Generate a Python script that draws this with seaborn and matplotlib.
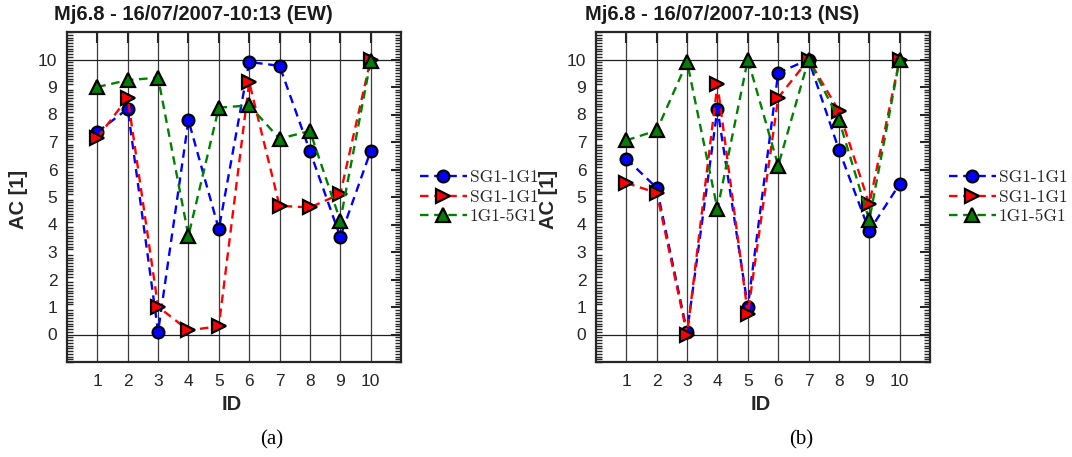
import matplotlib.pyplot as plt
import seaborn as sns
from matplotlib.font_manager import FontProperties
from matplotlib.ticker import MultipleLocator

# Data
ids = list(range(1, 11))
labels = ['SG1-1G1', 'SG1-1G1', '1G1-5G1']

ew_blue = [7.36, 8.21, 0.10, 7.79, 3.83, 9.91, 9.77, 6.67, 3.55, 6.67]
ew_red = [7.15, 8.61, 1.01, 0.15, 0.30, 9.18, 4.68, 4.62, 5.11, 10.0]
ew_green = [9.00, 9.25, 9.34, 3.59, 8.25, 8.33, 7.12, 7.40, 4.14, 9.94]

ns_blue = [6.39, 5.33, 0.09, 8.21, 1.01, 9.51, 10.0, 6.72, 3.77, 5.47]
ns_red = [5.51, 5.15, 0.00, 9.10, 0.75, 8.61, 10.0, 8.13, 4.74, 10.0]
ns_green = [7.06, 7.42, 9.91, 4.56, 10.0, 6.14, 10.0, 7.81, 4.16, 10.0]

titles = ['Mj6.8 - 16/07/2007-10:13 (EW)', 'Mj6.8 - 16/07/2007-10:13 (NS)']
captions = ['(a)', '(b)']

colors = ['#0000ff', '#ff0000', '#008000']
markers = ['o', '>', '^']
msizes = [8.5, 9.5, 9.5]

sns.set_theme(style='white')
plt.rcParams['font.family'] = ['Liberation Sans', 'DejaVu Sans']

W, H = 1072, 457
fig = plt.figure(figsize=(W / 100, H / 100), dpi=100)


def px(x, y):
    return x / W, 1 - y / H


offset = 529
panels = [(ew_blue, ew_red, ew_green), (ns_blue, ns_red, ns_green)]
legend_font = FontProperties(family='cmr10', size=12.5)

for i, series in enumerate(panels):
    dx = i * offset
    ax = fig.add_axes([(67 + dx) / W, 1 - 362 / H, 334 / W, 330 / H])

    ax.axhline(0, color='#202020', lw=0.9, zorder=1)
    ax.axhline(10, color='#202020', lw=0.9, zorder=1)
    ax.grid(axis='x', color='#3a3a3a', lw=0.9, zorder=1)
    ax.set_axisbelow(True)

    handles = []
    for vals, lab, c, m, ms in zip(series, labels, colors, markers, msizes):
        sns.lineplot(x=ids, y=vals, ax=ax, color=c, marker=m, markersize=ms,
                     markerfacecolor=c, markeredgecolor='black',
                     markeredgewidth=1.6, linewidth=1.7,
                     linestyle=(0, (3.6, 2.4)), label=lab, legend=False,
                     zorder=3)
        handles.append(ax.lines[-1])

    ax.set_xlim(0, 11)
    ax.set_ylim(-1, 11)
    ax.set_xticks(ids)
    ax.set_yticks(range(0, 11))
    ax.yaxis.set_minor_locator(MultipleLocator(0.1))
    ax.tick_params(axis='x', which='major', direction='in', top=True,
                   length=8, width=1.5, color='#262626', pad=9,
                   labelsize=12.5, labelcolor='#262626')
    ax.tick_params(axis='y', which='major', direction='in', right=True,
                   length=7, width=1.5, color='#262626', pad=7,
                   labelsize=12.5, labelcolor='#262626')
    ax.tick_params(axis='y', which='minor', direction='in', left=True,
                   right=True, length=4, width=1.0, color='#262626')
    for sp in ax.spines.values():
        sp.set_linewidth(1.6)
        sp.set_color('#262626')
    ax.set_xlabel('')
    ax.set_ylabel('')

    ax.legend(handles, labels, loc='center left',
              bbox_to_anchor=(1.057, 0.5), frameon=False, prop=legend_font,
              borderaxespad=0, borderpad=0, handlelength=2.7,
              handletextpad=0.15, labelspacing=0.25, numpoints=1)

    fig.text(*px(193 + dx, 14), titles[i], ha='center', va='center',
             fontsize=14.5, fontweight='bold', color='#1a1a1a')
    fig.text(*px(232 + dx, 405), 'ID', ha='center', va='center',
             fontsize=14.5, fontweight='bold', color='#262626')
    fig.text(*px(19 + dx, 199), 'AC [1]', ha='center', va='center',
             rotation=90, fontsize=14.5, fontweight='bold', color='#262626')
    fig.text(*px(272 + dx, 440), captions[i], ha='center', va='center',
             fontsize=15, family='Liberation Serif', color='black')

fig.savefig('out.png', dpi=100)
